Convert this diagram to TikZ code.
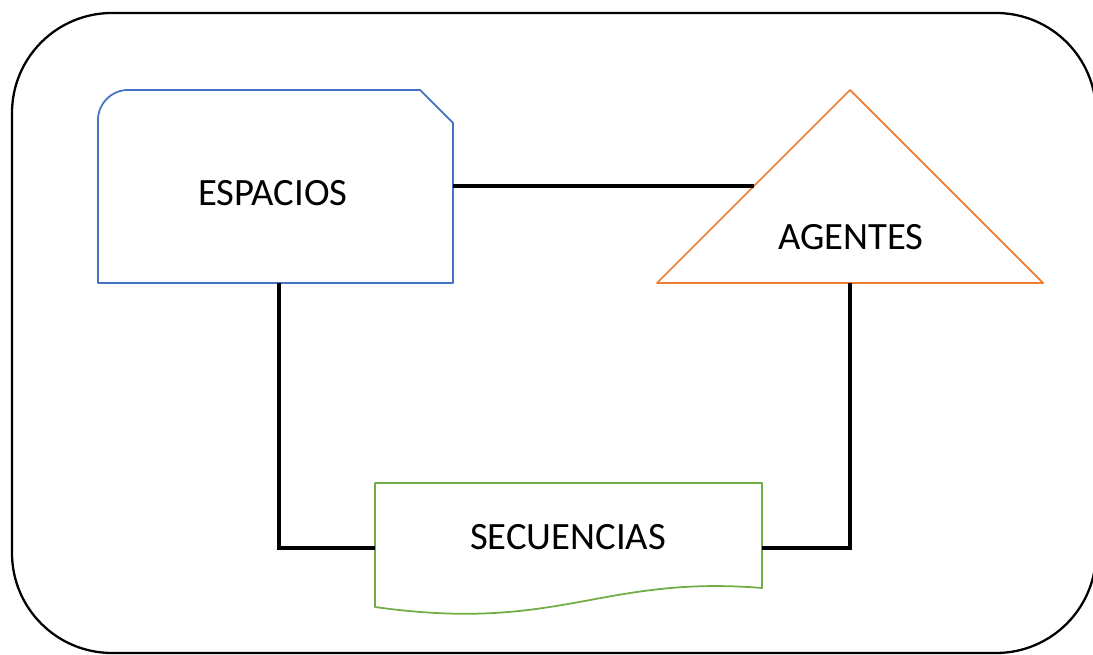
\documentclass[tikz,border=0pt]{standalone}
\usepackage{fontspec}
\setmainfont{Carlito}
\usepackage{xcolor}
\usepackage{tikz}
\usetikzlibrary{calc}
\definecolor{espblue}{HTML}{4472C4}
\definecolor{agorange}{HTML}{ED7D31}
\definecolor{secgreen}{HTML}{70AD47}

\begin{document}
\begin{tikzpicture}[
    x=0.02cm, y=0.02cm,
    % Styles
    frame/.style={draw=black, line width=1.3pt, rounded corners=2cm},
    shapeline/.style={line width=1pt, line join=round},
    link/.style={draw=black, line width=1.9pt},
    lbl/.style={font=\fontsize{22}{26}\selectfont, inner sep=0pt},
]
\useasboundingbox (0,0) rectangle (1093,655);

% ===== OUTER FRAME =====
\draw[frame] (12,2) rectangle (1096,642);

% ===== ESPACIOS =====
\draw[shapeline, draw=espblue] (98,372) -- (98,535) arc[start angle=180, end angle=90, radius=30] -- (420,565) -- (453,532) -- (453,372) -- cycle;
\node[lbl] (espacios) at (273,462) {ESPACIOS};
\coordinate (espE) at (453,469);
\coordinate (espS) at (279,372);

% ===== AGENTES =====
\draw[shapeline, draw=agorange] (657,372) -- (850,565) -- (1043,372) -- cycle;
\node[lbl] (agentes) at (851,418) {AGENTES};
\coordinate (agW) at (754,469);
\coordinate (agS) at (850,372);

% ===== SECUENCIAS =====
\draw[shapeline, draw=secgreen] (375,48) -- (375,172) -- (762,172) -- (762,67) .. controls (600,80) and (560,22) .. (375,48) -- cycle;
\node[lbl] (secuencias) at (568,118) {SECUENCIAS};
\coordinate (secW) at (375,107);
\coordinate (secE) at (762,107);

% ===== LINKS =====
\draw[link] (espE) -- (agW);
\draw[link] (espS) |- (secW);
\draw[link] (agS) |- (secE);

\end{tikzpicture}
\end{document}
